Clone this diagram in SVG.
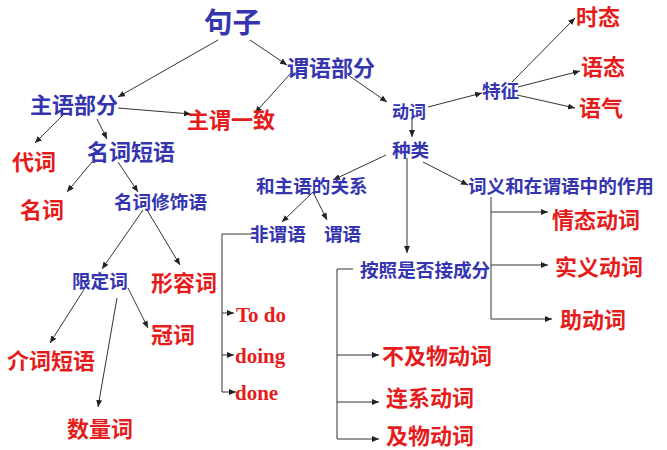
<svg xmlns="http://www.w3.org/2000/svg" width="667" height="450" viewBox="0 0 667 450">
<style>
text{font-family:"Noto Sans CJK SC","Noto Sans",sans-serif;font-weight:bold}
.b{fill:#3535b0}
.r{fill:#e61c1c}
.en{font-family:"Liberation Serif",serif;font-weight:bold;fill:#e61c1c;font-size:21px}
.s28{font-size:28.5px}.s22{font-size:22px}.s18{font-size:18.6px}.s17{font-size:17px}
#connectors line,#connectors polyline{stroke:#333;stroke-width:1;fill:none}
.a{marker-end:url(#ah)}
</style>
<defs>
<marker id="ah" markerUnits="userSpaceOnUse" markerWidth="7" markerHeight="6" refX="7" refY="3" orient="auto">
<path d="M0,0 L7,3 L0,6 z" fill="#222"/>
</marker>
</defs>
<rect width="667" height="450" fill="#fff"/>
<g id="connectors">
<line class="a" x1="218" y1="40" x2="118" y2="97"/>
<line class="a" x1="250" y1="40" x2="287" y2="65"/>
<line class="a" x1="291" y1="73" x2="255" y2="113"/>
<line class="a" x1="118" y1="108" x2="191" y2="114"/>
<line class="a" x1="348" y1="75" x2="387" y2="102"/>
<line class="a" x1="428" y1="107" x2="482" y2="93"/>
<line class="a" x1="512" y1="82" x2="575" y2="18"/>
<line class="a" x1="518" y1="87" x2="580" y2="71"/>
<line class="a" x1="517" y1="95" x2="575" y2="108"/>
<line class="a" x1="412" y1="119" x2="412" y2="137"/>
<line class="a" x1="386" y1="155" x2="333" y2="180"/>
<line class="a" x1="423" y1="162" x2="468" y2="185"/>
<line class="a" x1="407" y1="158" x2="407" y2="253"/>
<line x1="491" y1="197" x2="491" y2="319"/>
<line class="a" x1="491" y1="212" x2="548" y2="212"/>
<line class="a" x1="491" y1="265" x2="548" y2="265"/>
<line class="a" x1="491" y1="319" x2="552" y2="319"/>
<polyline points="353,269 337,269 337,439"/>
<line class="a" x1="337" y1="355" x2="379" y2="355"/>
<line class="a" x1="337" y1="402" x2="379" y2="402"/>
<line class="a" x1="337" y1="439" x2="379" y2="439"/>
<line class="a" x1="313" y1="192" x2="282" y2="222"/>
<line class="a" x1="313" y1="192" x2="327" y2="220"/>
<polyline points="252,234 222,234 222,392"/>
<line class="a" x1="222" y1="313" x2="234" y2="313"/>
<line class="a" x1="222" y1="355" x2="234" y2="355"/>
<line class="a" x1="222" y1="392" x2="236" y2="392"/>
<line class="a" x1="63" y1="115" x2="35" y2="143"/>
<line class="a" x1="97" y1="119" x2="107" y2="139"/>
<line class="a" x1="92" y1="162" x2="67" y2="192"/>
<line class="a" x1="118" y1="162" x2="138" y2="192"/>
<line class="a" x1="143" y1="210" x2="102" y2="269"/>
<line class="a" x1="147" y1="210" x2="180" y2="265"/>
<line class="a" x1="90" y1="280" x2="50" y2="343"/>
<line class="a" x1="117" y1="298" x2="98" y2="407"/>
<line class="a" x1="128" y1="288" x2="148" y2="328"/>
</g>
<g id="n-juzi"><text class="b s28" x="204" y="33">句子</text></g>
<g id="n-weiyubufen"><text class="b s22" x="287" y="76">谓语部分</text></g>
<g id="n-zhuyubufen"><text class="b s22" x="30" y="113">主语部分</text></g>
<g id="n-zhuweiyizhi"><text class="r s22" x="187" y="128">主谓一致</text></g>
<g id="n-dongci"><text class="b s17" x="392" y="118">动词</text></g>
<g id="n-tezheng"><text class="b s18" x="482" y="98">特征</text></g>
<g id="n-shitai"><text class="r s22" x="576" y="25">时态</text></g>
<g id="n-yutai"><text class="r s22" x="581" y="75">语态</text></g>
<g id="n-yuqi"><text class="r s22" x="579" y="116">语气</text></g>
<g id="n-zhonglei"><text class="b s18" x="392" y="157">种类</text></g>
<g id="n-daici"><text class="r s22" x="12" y="170">代词</text></g>
<g id="n-mingciduanyu"><text class="b s22" x="87" y="160">名词短语</text></g>
<g id="n-mingci"><text class="r s22" x="20" y="218">名词</text></g>
<g id="n-mingcixiushiyu"><text class="b s18" x="114" y="209">名词修饰语</text></g>
<g id="n-hezhuyu"><text class="b s18" x="256" y="193">和主语的关系</text></g>
<g id="n-ciyi"><text class="b s18" x="468" y="193">词义和在谓语中的作用</text></g>
<g id="n-feiweiyu"><text class="b s18" x="250" y="241">非谓语</text></g>
<g id="n-weiyu"><text class="b s18" x="324" y="241">谓语</text></g>
<g id="n-qingtai"><text class="r s22" x="552" y="228">情态动词</text></g>
<g id="n-anzhao"><text class="b s18" x="360" y="277">按照是否接成分</text></g>
<g id="n-shiyi"><text class="r s22" x="555" y="275">实义动词</text></g>
<g id="n-zhudongci"><text class="r s22" x="560" y="328">助动词</text></g>
<g id="n-bujiwu"><text class="r s22" x="382" y="364">不及物动词</text></g>
<g id="n-lianxi"><text class="r s22" x="386" y="406">连系动词</text></g>
<g id="n-jiwu"><text class="r s22" x="386" y="444">及物动词</text></g>
<g id="n-xiandingci"><text class="b s18" x="72" y="288">限定词</text></g>
<g id="n-xingrongci"><text class="r s22" x="151" y="291">形容词</text></g>
<g id="n-guanci"><text class="r s22" x="151" y="343">冠词</text></g>
<g id="n-jieciduanyu"><text class="r s22" x="7" y="369">介词短语</text></g>
<g id="n-shuliangci"><text class="r s22" x="67" y="437">数量词</text></g>
<g id="n-todo"><text class="en" x="236" y="322">To do</text></g>
<g id="n-doing"><text class="en" x="235" y="363">doing</text></g>
<g id="n-done"><text class="en" x="235" y="400">done</text></g>
</svg>
